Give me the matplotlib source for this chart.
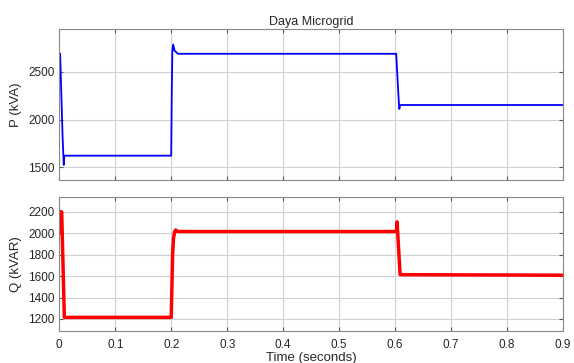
import matplotlib
matplotlib.use("Agg")
import matplotlib.pyplot as plt

# Active power P (kVA)
t_p = [0.0, 0.0015, 0.0060, 0.0080, 0.0090, 0.2000, 0.2010, 0.2020, 0.2035, 0.2060, 0.2120,
       0.6000, 0.6020, 0.6060, 0.6075, 0.6090, 0.9000]
p_vals = [2695, 2690, 1800, 1525, 1622, 1622, 2300, 2720, 2785, 2720, 2688,
          2688, 2688, 2250, 2110, 2152, 2152]

# Reactive power Q (kVAR)
t_q = [0.0, 0.0008, 0.0015, 0.0022, 0.0030, 0.0038, 0.0045, 0.0090, 0.2000, 0.2012, 0.2025,
       0.2040, 0.2060, 0.2080, 0.2100, 0.2130, 0.6000, 0.6025, 0.6035, 0.6090, 0.9000]
q_vals = [2010, 2200, 2000, 2200, 2020, 2200, 2150, 1215, 1215, 1500, 1800,
          1950, 2010, 2030, 2020, 2015, 2015, 2015, 2105, 1613, 1608]

x_ticks = [0, 0.1, 0.2, 0.3, 0.4, 0.5, 0.6, 0.7, 0.8, 0.9]
x_labels = ["0", "0.1", "0.2", "0.3", "0.4", "0.5", "0.6", "0.7", "0.8", "0.9"]
p_ticks = [1500, 2000, 2500]
q_ticks = [1200, 1400, 1600, 1800, 2000, 2200]

plt.rcParams['font.family'] = ['Liberation Sans', 'DejaVu Sans']
plt.rcParams['font.size'] = 8

fig = plt.figure(figsize=(5.74, 3.63), dpi=100)
ax1 = fig.add_axes([0.1033, 0.504, 0.8775, 0.415])
ax2 = fig.add_axes([0.1033, 0.089, 0.8775, 0.3675])

for ax in (ax1, ax2):
    ax.set_xlim(0, 0.9)
    ax.set_xticks(x_ticks)
    ax.grid(True, color='#d0d0d0', linewidth=0.8)
    ax.set_axisbelow(True)
    ax.tick_params(direction='in', top=True, right=True, length=3, color='#555555',
                   labelsize=8.5, labelcolor='#262626')
    ax.tick_params(axis='x', pad=6)
    for s in ax.spines.values():
        s.set_color('#8a8a8a')
        s.set_linewidth(0.8)

ax1.plot(t_p, p_vals, color=(0, 0, 1), linewidth=1.3)
ax1.set_ylim(1367, 2943)
ax1.set_yticks(p_ticks)
ax1.set_xticklabels([])
ax1.set_ylabel("P (kVA)", fontsize=9.5, color='#262626')
ax1.set_title("Daya Microgrid", fontsize=9, color='#262626', pad=3)

ax2.plot(t_q, q_vals, color=(1, 0, 0), linewidth=2.5)
ax2.set_ylim(1091, 2334)
ax2.set_yticks(q_ticks)
ax2.set_xticklabels(x_labels)
ax2.set_ylabel("Q (kVAR)", fontsize=9.5, color='#262626')
ax2.set_xlabel("Time (seconds)", fontsize=9.5, color='#262626', labelpad=0.5)

fig.savefig("out.png", dpi=100)
